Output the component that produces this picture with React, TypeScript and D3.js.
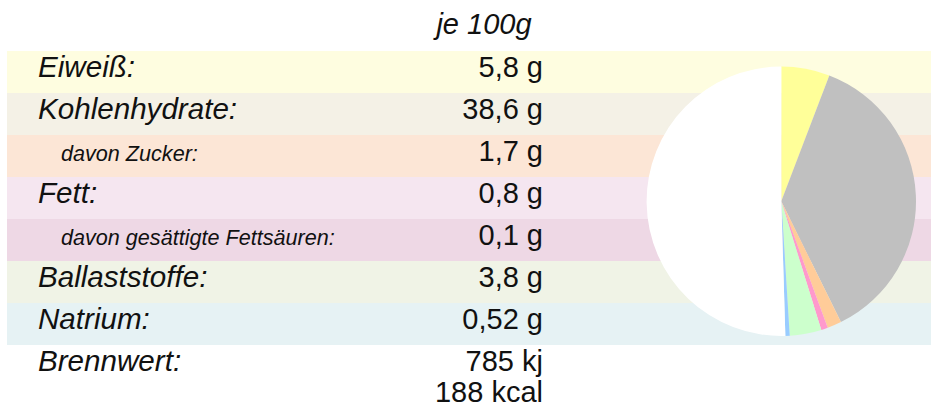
import * as d3 from 'd3';

const labels = [
  'Eiweiß:',
  'Kohlenhydrate:',
  'davon Zucker:',
  'Fett:',
  'davon gesättigte Fettsäuren:',
  'Ballaststoffe:',
  'Natrium:',
];
const amounts = [5.8, 38.6, 1.7, 0.8, 0.1, 3.8, 0.52];
const amountLabels = ['5,8 g', '38,6 g', '1,7 g', '0,8 g', '0,1 g', '3,8 g', '0,52 g'];
const isSubRow = [false, false, true, false, true, false, false];
const bandColors = ['#fefde0', '#f4f1e6', '#fce6d6', '#f5e6f0', '#eed8e5', '#f0f3e6', '#e6f2f4'];

const energyLabel = 'Brennwert:';
const energyValues = ['785 kj', '188 kcal'];
const headerLabel = 'je 100g';

// pie: carbs shown without sugar, sugar separately, rest of 100 g in white
const pieNames = ['Eiweiß', 'Kohlenhydrate', 'Zucker', 'Fett', 'Ballaststoffe', 'Natrium', 'Rest'];
const pieColors = ['#ffff99', '#c0c0c0', '#ffcc99', '#ff99cc', '#ccffcc', '#99ccff', '#ffffff'];
const pieValues = (() => {
  const [protein, carbs, sugar, fat, , fibre, sodium] = amounts;
  const shown = [protein, carbs - sugar, sugar, fat, fibre, sodium];
  return [...shown, 100 - d3.sum(shown)];
})();

const W = 931;
const H = 406;
const FONT = '"Liberation Sans", Arial, Helvetica, sans-serif';

export default function App() {
  const y = d3.scaleBand<number>().domain(d3.range(labels.length)).range([51, 345]).padding(0);
  const bandH = y.bandwidth();

  const pie = d3
    .pie<number>()
    .sort(null)
    .value((d) => d);
  const arcs = pie(pieValues);
  const arc = d3.arc<d3.PieArcDatum<number>>().innerRadius(0).outerRadius(134.7);

  const energyTop = 345;

  return (
    <svg
      width={W}
      height={H}
      style={{ position: 'absolute', left: 0, top: 0, background: '#ffffff' }}
      fontFamily={FONT}
    >
      {labels.map((_, i) => (
        <rect key={'b' + i} x={7} y={y(i)} width={W - 7} height={bandH} fill={bandColors[i]} />
      ))}

      <text x={484} y={34} textAnchor="middle" fontSize={29} fontStyle="italic" fill="#111">
        {headerLabel}
      </text>

      {labels.map((lab, i) => (
        <g key={'r' + i}>
          <text
            x={isSubRow[i] ? 61 : 38}
            y={(y(i) ?? 0) + 26}
            fontSize={isSubRow[i] ? 21.6 : 29.6}
            fontStyle="italic"
            fill="#111"
          >
            {lab}
          </text>
          <text x={543} y={(y(i) ?? 0) + 26} fontSize={29} textAnchor="end" fill="#111">
            {amountLabels[i]}
          </text>
        </g>
      ))}

      <text x={38} y={energyTop + 26} fontSize={29.6} fontStyle="italic" fill="#111">
        {energyLabel}
      </text>
      {energyValues.map((v, i) => (
        <text key={'e' + i} x={543} y={energyTop + 26 + i * 31} fontSize={29} textAnchor="end" fill="#111">
          {v}
        </text>
      ))}

      <g transform="translate(781.3,201.3)">
        {arcs.map((a, i) => (
          <path key={pieNames[i]} d={arc(a) ?? ''} fill={pieColors[i]} />
        ))}
      </g>
    </svg>
  );
}
